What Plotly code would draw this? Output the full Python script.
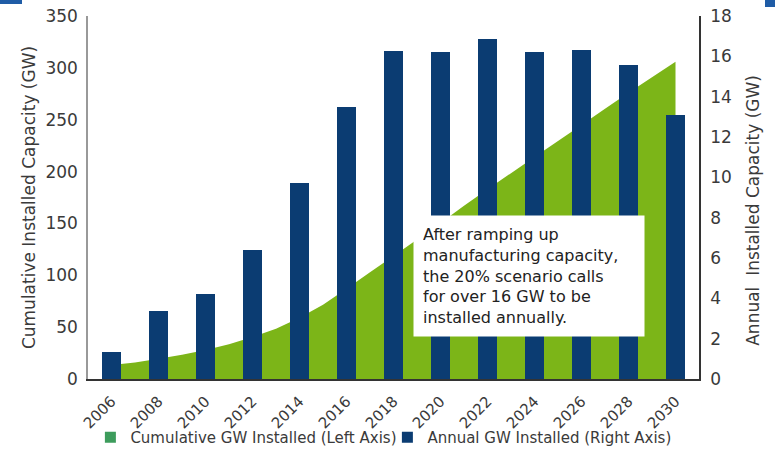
import plotly.graph_objects as go

# ---- data ----
area_years = list(range(2006, 2031))
cumulative_gw = [13.5, 16, 19.5, 23.5, 28, 33.5, 40.5, 48.5, 59, 71.5, 87, 103, 118.5,
                 134.5, 150.5, 167, 183, 198.5, 214, 229.5, 245, 260.5, 276, 291, 306]
bar_years = list(range(2006, 2031, 2))
annual_gw = [1.35, 3.35, 4.2, 6.4, 9.7, 13.5, 16.25, 16.2, 16.85, 16.2, 16.3, 15.55, 13.1]
tick_years = list(range(2006, 2031, 2))
left_ticks = [0, 50, 100, 150, 200, 250, 300, 350]
right_ticks = [0, 2, 4, 6, 8, 10, 12, 14, 16, 18]

name_cum = "Cumulative GW Installed (Left Axis)"
name_ann = "Annual GW Installed (Right Axis)"
left_title = "Cumulative Installed Capacity (GW)"
right_title = "Annual\u00a0 Installed Capacity (GW)"
note = ("After ramping up<br>manufacturing capacity,<br>the 20% scenario calls"
        "<br>for over 16 GW to be<br>installed annually.")

GREEN = "#7cb518"
LEGEND_GREEN = "#3d9c5c"
NAVY = "#0b3c72"
TXT = "#3a3a3a"
FONT = "DejaVu Sans"

fig = go.Figure()
fig.add_trace(go.Scatter(x=area_years, y=cumulative_gw, mode="none", fill="tozeroy",
                         fillcolor=GREEN, showlegend=False, yaxis="y", hoverinfo="x+y"))
fig.add_trace(go.Bar(x=bar_years, y=annual_gw, width=0.81, marker=dict(color=NAVY, line_width=0),
                     showlegend=False, yaxis="y2"))
# legend entries
fig.add_trace(go.Scatter(x=[None], y=[None], mode="markers", name=name_cum,
                         marker=dict(symbol="square", size=11, color=LEGEND_GREEN)))
fig.add_trace(go.Scatter(x=[None], y=[None], mode="markers", name=name_ann,
                         marker=dict(symbol="square", size=11, color=NAVY)))

H_PAPER = 454 - 16          # paper height (margin b = 0)
DOM_LOW = (454 - 379) / H_PAPER

fig.update_layout(
    width=775, height=454,
    margin=dict(l=88, r=76, t=16, b=0),
    paper_bgcolor="white", plot_bgcolor="white",
    font=dict(family=FONT, color=TXT),
    showlegend=True,
    legend=dict(orientation="h", x=0.49, xanchor="center",
                y=0.0, yanchor="bottom", entrywidth=252, entrywidthmode="pixels",
                font=dict(family=FONT, size=15, color=TXT), itemwidth=30,
                bgcolor="rgba(0,0,0,0)", traceorder="normal"),
    xaxis=dict(range=[2005, 2031], tickmode="array", tickvals=tick_years,
               ticktext=[str(t) for t in tick_years], tickangle=-45, automargin=False,
               tickfont=dict(family=FONT, size=15, color=TXT), ticklabelstandoff=6,
               showgrid=False, zeroline=False, showline=True, linecolor="#333333",
               linewidth=1.5, layer="below traces", ticks="", anchor="y"),
    yaxis=dict(range=[0, 350], tickmode="array", tickvals=left_ticks, automargin=False,
               domain=[DOM_LOW, 1],
               tickfont=dict(family=FONT, size=17, color=TXT), showgrid=False,
               zeroline=False, showline=True, linecolor="#999999", linewidth=1.5,
               ticks="", ticklabelstandoff=5,
               title=dict(text=left_title,
                          font=dict(family=FONT, size=17, color=TXT), standoff=5)),
    yaxis2=dict(range=[0, 18], overlaying="y", side="right", tickmode="array",
                tickvals=right_ticks, tickfont=dict(family=FONT, size=17, color=TXT),
                showgrid=False, zeroline=False, showline=True, linecolor="#333333",
                linewidth=1.5, ticks="", ticklabelstandoff=6, automargin=False),
    bargap=0,
)

# right axis title (placed slightly below centre, as in the source)
fig.add_annotation(xref="paper", yref="paper", x=1.088, y=(454 - 210) / H_PAPER,
                   xanchor="center", yanchor="middle", textangle=-90, showarrow=False,
                   text=right_title, font=dict(family=FONT, size=17, color=TXT))

fig.add_annotation(xref="paper", yref="paper", x=0.532, y=(454 - 215) / H_PAPER,
                   xanchor="left", yanchor="top", width=212,
                   text=note, showarrow=False, align="left", bgcolor="white", borderpad=9,
                   font=dict(family=FONT, size=16, color="#222222"))

# decorative slide corners
fig.add_shape(type="rect", xref="paper", yref="paper", x0=-0.144, x1=-0.108,
              y0=(454 - 4) / H_PAPER, y1=1.04, fillcolor="#1f5ca6", line_width=0, layer="above")
fig.add_shape(type="rect", xref="paper", yref="paper", x0=1.108, x1=1.13,
              y0=(454 - 7) / H_PAPER, y1=1.04, fillcolor="#1f5ca6", line_width=0, layer="above")

fig.write_html("out.html", config={"displayModeBar": False},
               post_script="document.body.style.margin='0';document.body.style.overflow='hidden';")
